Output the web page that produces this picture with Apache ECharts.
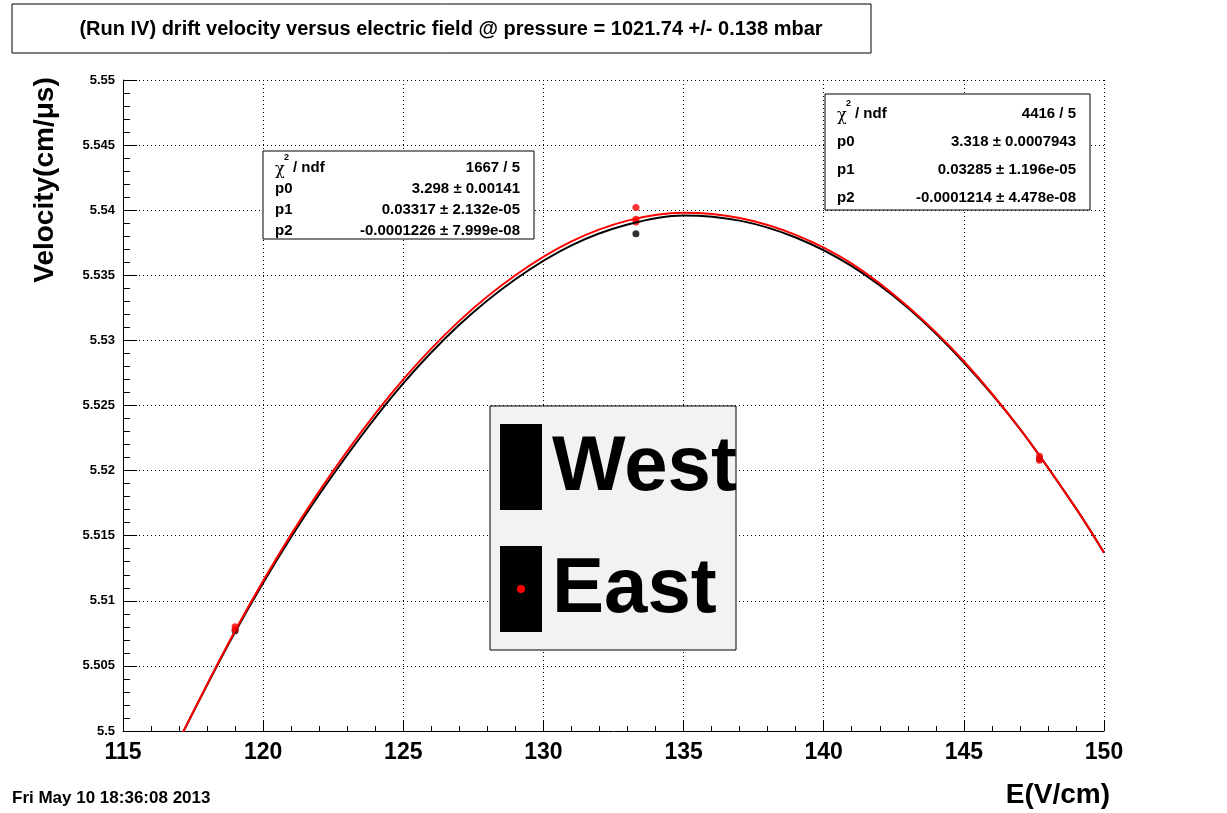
<!DOCTYPE html>
<html><head><meta charset="utf-8">
<script src="https://cdn.jsdelivr.net/npm/echarts@6/dist/echarts.min.js"></script>
<style>body{margin:0;background:#fff}#c{width:1227px;height:813px}</style></head>
<body><div id="c"></div>
<script>
const fitE = [117, 119, 121, 123, 125, 127, 129, 131, 133, 135, 137, 139, 141, 143, 145, 147, 149, 150];
const westFit = [5.4993, 5.5076, 5.5149, 5.5212, 5.5267, 5.5312, 5.5347, 5.5373, 5.5389, 5.5396, 5.5392, 5.5379, 5.5357, 5.5325, 5.5283, 5.5232, 5.5171, 5.5137];
const eastFit = [5.4993, 5.5077, 5.5151, 5.5215, 5.5270, 5.5315, 5.5350, 5.5376, 5.5392, 5.5398, 5.5394, 5.5381, 5.5359, 5.5326, 5.5284, 5.5232, 5.5171, 5.5137];
const westPts = [[119, 5.5077], [133.3, 5.5382], [147.7, 5.5209]];
const eastPts = [[119, 5.5080], [119, 5.5078], [133.3, 5.5402], [133.3, 5.5393], [133.3, 5.5391], [147.7, 5.5211], [147.7, 5.5208]];
const statsW = [["χ", "1667 / 5"], ["p0", "3.298 ± 0.00141"], ["p1", "0.03317 ± 2.132e-05"], ["p2", "-0.0001226 ± 7.999e-08"]];
const statsE = [["χ", "4416 / 5"], ["p0", "3.318 ± 0.0007943"], ["p1", "0.03285 ± 1.196e-05"], ["p2", "-0.0001214 ± 4.478e-08"]];

function statBox(x, y, w, rowH, rows) {
  const els = [{type:'rect', shape:{x, y, width:w, height:rowH*rows.length+4}, style:{fill:'#fff', stroke:'#000', lineWidth:1}}];
  rows.forEach((r, i) => {
    const ty = y + 6 + i*rowH + rowH/2;
    if (i === 0) {
      els.push({type:'text', style:{x:x+12, y:ty+2, text:'χ', font:'16px DejaVu Serif', fill:'#000', verticalAlign:'middle'}});
      els.push({type:'text', style:{x:x+21, y:ty-10, text:'2', font:'bold 9px Liberation Sans', fill:'#000', verticalAlign:'middle'}});
      els.push({type:'text', style:{x:x+30, y:ty, text:'/ ndf', font:'bold 15px Liberation Sans', fill:'#000', verticalAlign:'middle'}});
    } else {
      els.push({type:'text', style:{x:x+12, y:ty, text:r[0], font:'bold 15px Liberation Sans', fill:'#000', verticalAlign:'middle'}});
    }
    els.push({type:'text', style:{x:x+w-14, y:ty, text:r[1], font:'bold 15px Liberation Sans', fill:'#000', align:'right', verticalAlign:'middle'}});
  });
  return els;
}
const chart = echarts.init(document.getElementById('c'));
const toPair = (xs, ys) => xs.map((x, i) => [x, ys[i]]);
const gfx = [
    {type:'rect', shape:{x:12, y:4, width:859, height:49}, style:{fill:'#fff', stroke:'#000', lineWidth:1}},
    {type:'text', style:{x:451, y:29, text:'(Run IV) drift velocity versus electric field @ pressure = 1021.74 +/- 0.138 mbar', font:'bold 20px Liberation Sans', fill:'#000', align:'center', verticalAlign:'middle'}},
    {type:'text', style:{x:12, y:798, text:'Fri May 10 18:36:08 2013', font:'bold 17px Liberation Sans', fill:'#000', verticalAlign:'middle'}},
    {type:'text', style:{x:1110, y:795, text:'E(V/cm)', font:'bold 28px Liberation Sans', fill:'#000', align:'right', verticalAlign:'middle'}},
    {type:'text', rotation:Math.PI/2, x:45, y:180, style:{x:0, y:0, text:'Velocity(cm/μs)', font:'bold 28px Liberation Sans', fill:'#000', align:'center', verticalAlign:'middle'}},
    ...statBox(263, 151, 271, 21, statsW),
    ...statBox(825, 94, 265, 28, statsE),
    {type:'rect', shape:{x:490, y:406, width:246, height:244}, style:{fill:'#f2f2f2', stroke:'#000', lineWidth:1}},
    {type:'rect', shape:{x:500, y:424, width:42, height:86}, style:{fill:'#000'}},
    {type:'rect', shape:{x:500, y:546, width:42, height:86}, style:{fill:'#000'}},
    {type:'circle', shape:{cx:521, cy:589, r:4}, style:{fill:'#f00'}},
    {type:'text', style:{x:552, y:468, text:'West', font:'bold 78px Liberation Sans', fill:'#000', verticalAlign:'middle'}},
    {type:'text', style:{x:552, y:590, text:'East', font:'bold 78px Liberation Sans', fill:'#000', verticalAlign:'middle'}}
];
gfx.forEach(g => { g.z = 100; });
chart.setOption({
  backgroundColor:'#fff',
  animation:false,
  grid:{left:123, right:123, top:80, bottom:82},
  xAxis:{type:'value', min:115, max:150, interval:5,
    axisLine:{onZero:false, lineStyle:{color:'#000'}}, axisTick:{length:10, inside:true, lineStyle:{color:'#000'}},
    minorTick:{show:true, splitNumber:5, length:5, lineStyle:{color:'#000'}},
    axisLabel:{color:'#000', fontWeight:'bold', fontSize:23, fontFamily:'Liberation Sans', margin:10},
    splitLine:{show:true, lineStyle:{color:'#000', type:[1,3], width:1}}},
  yAxis:{type:'value', min:5.5, max:5.55, interval:0.005,
    axisLine:{show:true, lineStyle:{color:'#000'}}, axisTick:{length:14, inside:true, lineStyle:{color:'#000'}},
    minorTick:{show:true, splitNumber:5, length:7, lineStyle:{color:'#000'}},
    axisLabel:{color:'#000', fontSize:13, fontWeight:'bold', fontFamily:'Liberation Sans', margin:8},
    splitLine:{show:true, lineStyle:{color:'#000', type:[1,3], width:1}}},
  series:[
    {type:'line', data:toPair(fitE, westFit), smooth:0.3, symbol:'none', lineStyle:{color:'#000', width:2}},
    {type:'line', data:toPair(fitE, eastFit), smooth:0.3, symbol:'none', lineStyle:{color:'#f00', width:2}},
    {type:'scatter', data:westPts, symbolSize:7, itemStyle:{color:'#000'}},
    {type:'scatter', data:eastPts, symbolSize:7, itemStyle:{color:'#f00'}}
  ],
  graphic:gfx
});
</script></body></html>
